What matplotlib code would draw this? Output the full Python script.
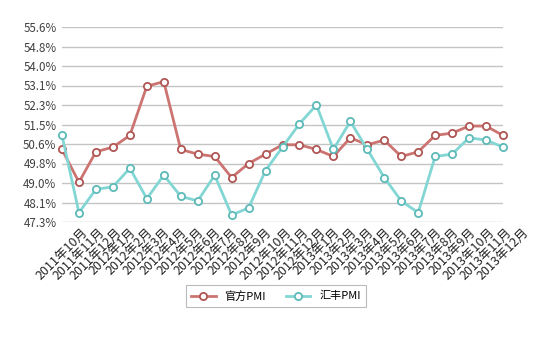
import matplotlib
matplotlib.use("Agg")
import matplotlib.pyplot as plt
import numpy as np

plt.rcParams['font.family'] = ['Noto Sans CJK SC', 'DejaVu Sans']

months = ["2011年10月", "2011年11月", "2011年12月",
          "2012年1月", "2012年2月", "2012年3月", "2012年4月", "2012年5月", "2012年6月",
          "2012年7月", "2012年8月", "2012年9月", "2012年10月", "2012年11月", "2012年12月",
          "2013年1月", "2013年2月", "2013年3月", "2013年4月", "2013年5月", "2013年6月",
          "2013年7月", "2013年8月", "2013年9月", "2013年10月", "2013年11月", "2013年12月"]

official_pmi = [50.4, 49.0, 50.3, 50.5, 51.0, 53.1, 53.3, 50.4, 50.2, 50.1, 49.2, 49.8, 50.2,
                50.6, 50.6, 50.4, 50.1, 50.9, 50.6, 50.8, 50.1, 50.3, 51.0, 51.1, 51.4, 51.4, 51.0]
hsbc_pmi = [51.0, 47.7, 48.7, 48.8, 49.6, 48.3, 49.3, 48.4, 48.2, 49.3, 47.6, 47.9, 49.5,
            50.5, 51.5, 52.3, 50.4, 51.6, 50.4, 49.2, 48.2, 47.7, 50.1, 50.2, 50.9, 50.8, 50.5]

y_min = 47.3
y_step = 5.0 / 6.0
y_ticks = [y_min + i * y_step for i in range(11)]

fig = plt.figure(figsize=(5.51, 3.41), dpi=100)
ax = fig.add_axes([62 / 551, 1 - 222 / 341, (503 - 62) / 551, (222 - 27) / 341])

x = np.arange(len(months))
ax.plot(x, official_pmi, color='#CC7472', lw=2.0, marker='o', ms=5.2,
        mfc='white', mec='#B05654', mew=1.3, label='官方PMI', zorder=3, clip_on=False)
ax.plot(x, hsbc_pmi, color='#82D6D4', lw=2.0, marker='o', ms=5.2,
        mfc='white', mec='#5DBAB8', mew=1.3, label='汇丰PMI', zorder=3, clip_on=False)

ax.set_xlim(0, len(months) - 1)
ax.set_ylim(y_ticks[0], y_ticks[-1])
ax.set_yticks(y_ticks)
ax.set_yticklabels([f"{v:.1f}%" for v in y_ticks], fontsize=8.3, color='#404040')
ax.set_xticks(x)
ax.set_xticklabels(months, rotation=45, ha='center', va='top', fontsize=9, color='#222222')
ax.tick_params(axis='both', length=0)
ax.tick_params(axis='y', pad=4)
ax.tick_params(axis='x', pad=3)
ax.grid(axis='y', color='#C4C4C4', lw=1)
ax.set_axisbelow(True)
for s in ax.spines.values():
    s.set_visible(False)

leg = fig.legend(loc='center', bbox_to_anchor=(276 / 551, 1 - 296 / 341), ncol=2,
                 fontsize=8, frameon=True, fancybox=False, edgecolor='#AAAAAA',
                 handlelength=2.2, columnspacing=1.8, borderpad=0.5)
leg.get_frame().set_linewidth(0.8)

fig.savefig('out.png', dpi=100, facecolor='white')
